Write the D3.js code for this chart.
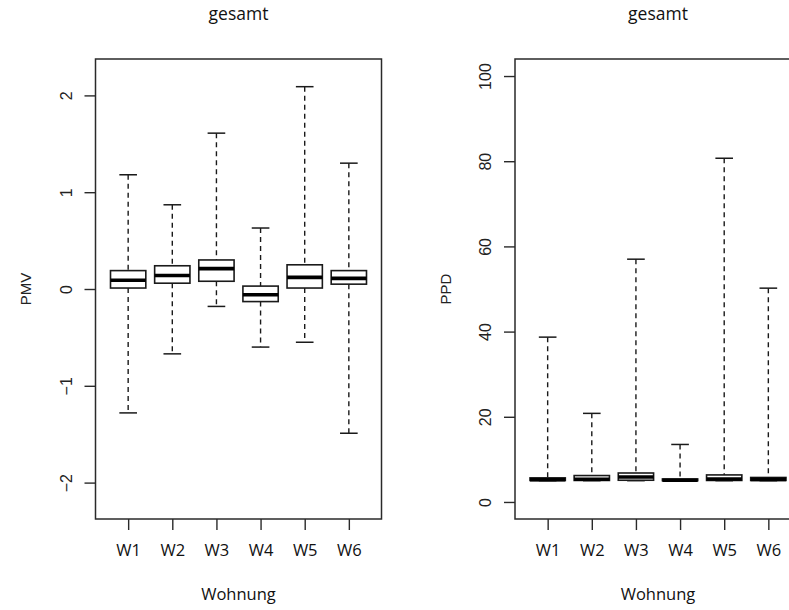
<!DOCTYPE html>
<html>
<head>
<meta charset="utf-8">
<script src="https://cdn.jsdelivr.net/npm/d3@7"></script>
<style>
  html, body { margin: 0; padding: 0; background: #fff; overflow: hidden; }
  svg { display: block; }
</style>
</head>
<body>
<svg id="chart" width="789" height="610"></svg>
<script>
// ---- data ----
const categories = ["W1", "W2", "W3", "W4", "W5", "W6"];

const pmvLow  = [-1.28, -0.67, -0.18, -0.60, -0.55, -1.49];
const pmvQ1   = [ 0.01,  0.06,  0.08, -0.13,  0.01,  0.05];
const pmvMed  = [ 0.09,  0.14,  0.21, -0.06,  0.12,  0.11];
const pmvQ3   = [ 0.19,  0.24,  0.30,  0.03,  0.25,  0.19];
const pmvHigh = [ 1.18,  0.87,  1.61,  0.63,  2.09,  1.30];

const ppdLow  = [ 5.00,  5.00,  5.00,  5.00,  5.00,  5.00];
const ppdQ1   = [ 5.05,  5.05,  5.10,  5.00,  5.05,  5.05];
const ppdMed  = [ 5.25,  5.35,  5.85,  5.10,  5.40,  5.30];
const ppdQ3   = [ 5.65,  6.20,  6.80,  5.40,  6.35,  5.75];
const ppdHigh = [38.7,  20.8,  57.0,  13.5,  80.7,  50.2];

const pmvTicks = [-2, -1, 0, 1, 2];
const ppdTicks = [0, 20, 40, 60, 80, 100];
const pmvLim = [-2.2, 2.2];
const ppdLim = [0, 100];

const titleText = "gesamt";
const xTitle = "Wohnung";

// ---- layout ----
const svg = d3.select("#chart");
const panelW = 419.5;
const plot = { left: 95.5, right: 381.5, top: 59, bottom: 519 };
const ink = "#1a1a1a";

function extend(lim) {
  const r = (lim[1] - lim[0]) * 0.04;
  return [lim[0] - r, lim[1] + r];
}

function drawPanel(offsetX, low, q1, med, q3, high, ticks, lim, yLabel) {
  const g = svg.append("g").attr("transform", `translate(${offsetX},0)`);

  const x = d3.scaleLinear()
    .domain([0.26, categories.length + 0.74])
    .range([plot.left, plot.right]);
  const y = d3.scaleLinear()
    .domain(extend(lim))
    .range([plot.bottom, plot.top]);

  const boxHalf = (x(1.4) - x(1));    // boxwex 0.8
  const stapleHalf = (x(1.2) - x(1)); // staple 0.4

  const data = categories.map((c, i) => ({
    c, pos: i + 1, lo: low[i], q1: q1[i], md: med[i], q3: q3[i], hi: high[i]
  }));

  const bx = g.selectAll("g.box").data(data).enter().append("g").attr("class", "box");

  // whiskers (dashed)
  bx.append("line")
    .attr("x1", d => x(d.pos)).attr("x2", d => x(d.pos))
    .attr("y1", d => y(d.hi)).attr("y2", d => y(d.q3))
    .attr("stroke", ink).attr("stroke-width", 1.4).attr("stroke-dasharray", "5,4");
  bx.append("line")
    .attr("x1", d => x(d.pos)).attr("x2", d => x(d.pos))
    .attr("y1", d => y(d.q1)).attr("y2", d => y(d.lo))
    .attr("stroke", ink).attr("stroke-width", 1.4).attr("stroke-dasharray", "5,4");
  // staples
  bx.append("line")
    .attr("x1", d => x(d.pos) - stapleHalf).attr("x2", d => x(d.pos) + stapleHalf)
    .attr("y1", d => y(d.hi)).attr("y2", d => y(d.hi))
    .attr("stroke", ink).attr("stroke-width", 1.5);
  bx.append("line")
    .attr("x1", d => x(d.pos) - stapleHalf).attr("x2", d => x(d.pos) + stapleHalf)
    .attr("y1", d => y(d.lo)).attr("y2", d => y(d.lo))
    .attr("stroke", ink).attr("stroke-width", 1.5);
  // box
  bx.append("rect")
    .attr("x", d => x(d.pos) - boxHalf)
    .attr("width", 2 * boxHalf)
    .attr("y", d => y(d.q3))
    .attr("height", d => Math.max(0.5, y(d.q1) - y(d.q3)))
    .attr("fill", "#fff").attr("stroke", ink).attr("stroke-width", 1.6);
  // median
  bx.append("line")
    .attr("x1", d => x(d.pos) - boxHalf).attr("x2", d => x(d.pos) + boxHalf)
    .attr("y1", d => y(d.md)).attr("y2", d => y(d.md))
    .attr("stroke", "#000").attr("stroke-width", 3.6);

  // frame
  g.append("rect")
    .attr("x", plot.left).attr("y", plot.top)
    .attr("width", plot.right - plot.left).attr("height", plot.bottom - plot.top)
    .attr("fill", "none").attr("stroke", "#2a2a2a").attr("stroke-width", 1.5);

  // y axis
  const yAxis = g.append("g")
    .attr("transform", `translate(${plot.left},0)`)
    .call(d3.axisLeft(y).tickValues(ticks).tickSize(11).tickFormat(d3.format("d")));
  yAxis.select(".domain").remove();
  yAxis.selectAll(".tick line").attr("stroke", "#2a2a2a").attr("stroke-width", 1.4);
  yAxis.selectAll(".tick text")
    .attr("x", null).attr("dy", null)
    .attr("transform", "translate(-24,0) rotate(-90)")
    .attr("text-anchor", "middle")
    .attr("fill", "#222")
    .style("font-family", "'Liberation Sans', Arial, sans-serif")
    .style("font-size", "16px")
    .text(d => d < 0 ? "\u2212" + Math.abs(d) : d);

  // x axis
  const xAxis = g.append("g")
    .attr("transform", `translate(0,${plot.bottom})`)
    .call(d3.axisBottom(x).tickValues(categories.map((c, i) => i + 1))
      .tickSize(11).tickFormat((d, i) => categories[i]));
  xAxis.select(".domain").remove();
  xAxis.selectAll(".tick line").attr("stroke", "#2a2a2a").attr("stroke-width", 1.4);
  xAxis.selectAll(".tick text")
    .attr("y", 37).attr("dy", null)
    .attr("fill", "#111")
    .style("font-family", "'Open Sans', 'Noto Sans', sans-serif")
    .style("font-size", "16.5px");

  // titles
  const cx = (plot.left + plot.right) / 2;
  g.append("text")
    .attr("x", cx).attr("y", 20)
    .attr("text-anchor", "middle")
    .attr("fill", "#111")
    .style("font-family", "'Open Sans', 'Noto Sans', sans-serif")
    .style("font-size", "17.5px")
    .text(titleText);
  g.append("text")
    .attr("x", cx).attr("y", 600)
    .attr("text-anchor", "middle")
    .attr("fill", "#111")
    .style("font-family", "'Open Sans', 'Noto Sans', sans-serif")
    .style("font-size", "16.5px")
    .text(xTitle);
  g.append("text")
    .attr("transform", `translate(31,${(plot.top + plot.bottom) / 2}) rotate(-90)`)
    .attr("text-anchor", "middle")
    .attr("fill", "#222")
    .style("font-family", "'Liberation Sans', Arial, sans-serif")
    .style("font-size", "15px")
    .text(yLabel);
}

drawPanel(0, pmvLow, pmvQ1, pmvMed, pmvQ3, pmvHigh, pmvTicks, pmvLim, "PMV");
drawPanel(panelW, ppdLow, ppdQ1, ppdMed, ppdQ3, ppdHigh, ppdTicks, ppdLim, "PPD");
</script>
</body>
</html>
